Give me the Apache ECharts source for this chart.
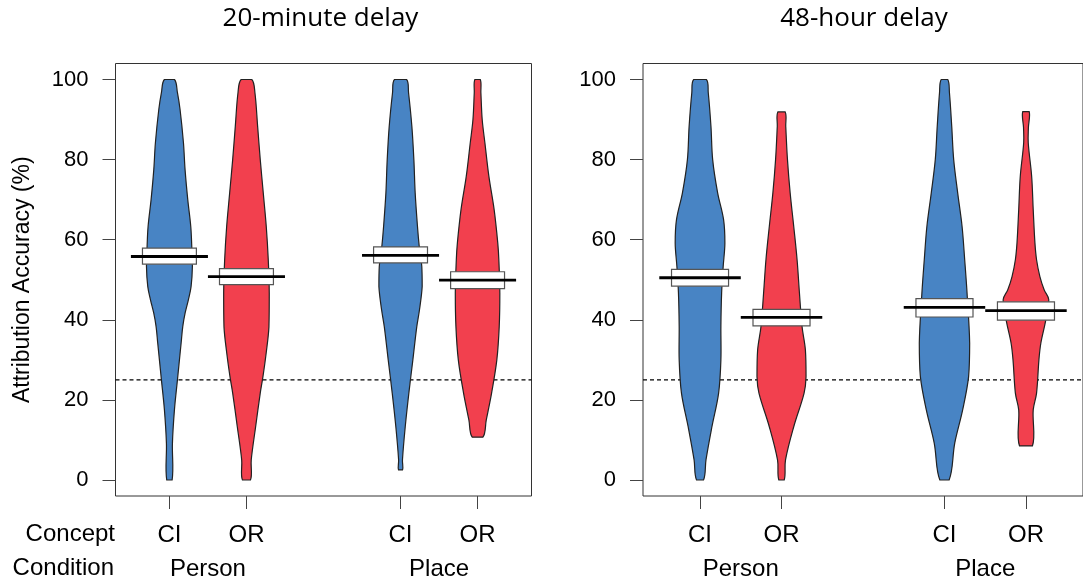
<!DOCTYPE html>
<html><head><meta charset="utf-8">
<script src="https://cdn.jsdelivr.net/npm/echarts@6/dist/echarts.min.js"></script>
<style>html,body{margin:0;padding:0;background:#fff}#c{width:1083px;height:587px}</style>
</head><body><div id="c"></div>
<script>
// ---------- data ----------
const panelTitles = ['20-minute delay', '48-hour delay'];
const beanX = [1, 2, 4, 5];
const conceptLabels = ['CI', 'OR', 'CI', 'OR'];
const conditionLabels = ['Person', 'Place'];
const conditionX = [1.5, 4.5];
const yTicks = [0, 20, 40, 60, 80, 100];
const chanceLevel = 25;

// means and inference band (lower / upper) per bean: Person-CI, Person-OR, Place-CI, Place-OR
const mean20 = [55.8, 50.8, 56.1, 49.9];
const ciLow20 = [53.9, 48.8, 54.2, 47.8];
const ciHigh20 = [57.9, 52.8, 58.2, 52.0];
const mean48 = [50.5, 40.6, 43.1, 42.3];
const ciLow48 = [48.4, 38.5, 40.7, 39.9];
const ciHigh48 = [52.6, 42.6, 45.3, 44.5];

// bean density profiles: [accuracy, half-width in x units]
const dens20PersonCI = [[0,.035],[9.2,.039],[17.5,.065],[25,.104],[30,.13],[34.2,.152],[38.3,.173],[41.7,.204],[45,.246],[48.3,.281],[53.3,.298],[58.3,.29],[63.3,.277],[70,.238],[77.5,.203],[84.2,.182],[92.5,.138],[96.7,.104],[100,.065]];
const dens20PersonOR = [[0,.052],[5,.062],[13.3,.119],[21.7,.179],[25.8,.214],[31.7,.256],[38.3,.292],[46.7,.296],[55,.283],[63.3,.257],[71.7,.218],[80,.179],[88.3,.145],[96.7,.11],[100,.069]];
const dens20PlaceCI = [[2.5,.026],[5,.025],[13.3,.061],[21.7,.108],[30,.16],[38.3,.211],[42.5,.246],[48.3,.281],[53.3,.276],[58.3,.243],[63.3,.22],[71.7,.19],[80,.173],[88.3,.147],[96.7,.104],[100,.078]];
const dens20PlaceOR = [[10.7,.069],[15,.113],[21.7,.182],[30,.25],[38.3,.281],[46.7,.289],[55,.276],[59.2,.262],[67.5,.215],[75.8,.147],[84.2,.095],[90,.06],[96.7,.043],[100,.035]];
const dens48PersonCI = [[0,.043],[5,.073],[13.3,.146],[21.7,.228],[30,.256],[38.3,.256],[46.7,.265],[53.3,.284],[59.2,.305],[65,.289],[71.7,.216],[80,.155],[88.3,.134],[96.7,.101],[100,.077]];
const dens48PersonOR = [[0,.033],[5,.049],[13.3,.15],[21.7,.277],[25.8,.301],[32.5,.293],[38.3,.252],[46.7,.22],[55,.191],[63.3,.15],[71.7,.106],[80,.073],[88.3,.052],[91.9,.045]];
const dens48PlaceCI = [[0,.057],[9.2,.126],[17.5,.223],[25.8,.296],[34.2,.309],[46.7,.277],[55,.248],[63.3,.216],[71.7,.162],[80,.113],[88.3,.089],[96.7,.061],[100,.04]];
const dens48PlaceOR = [[8.5,.079],[17.5,.089],[21.7,.13],[30,.159],[34.2,.183],[39.6,.24],[45,.28],[47.5,.223],[50.8,.171],[55,.13],[59.2,.11],[67.5,.089],[75.8,.07],[84.2,.028],[88,.03],[92,.039]];

const beanColors = ['#4884C4', '#F2404E', '#4884C4', '#F2404E'];

// ---------- build ----------
const panels = [
  {means: mean20, lo: ciLow20, hi: ciHigh20, dens: [dens20PersonCI, dens20PersonOR, dens20PlaceCI, dens20PlaceOR]},
  {means: mean48, lo: ciLow48, hi: ciHigh48, dens: [dens48PersonCI, dens48PersonOR, dens48PlaceCI, dens48PlaceOR]}
];
const FONT = 'Liberation Sans, Arial, Helvetica, sans-serif';
const gridBoxes = [
  {left: 115.5, top: 63.5, width: 416, height: 432.5},
  {left: 643, top: 63.5, width: 443, height: 432.5}
];

const grid = gridBoxes.map(g => Object.assign({show: true, borderColor: '#333', borderWidth: 1, containLabel: false}, g));
const xAxis = [], yAxis = [], series = [];
panels.forEach((p, gi) => {
  xAxis.push({
    gridIndex: gi, type: 'value', min: 0.3, max: 5.7, position: 'bottom',
    axisLine: {show: false, onZero: false}, splitLine: {show: false},
    axisTick: {show: true, customValues: beanX, length: 13, lineStyle: {color: '#444', width: 1}},
    axisLabel: {customValues: beanX, margin: 27, fontSize: 24, fontFamily: FONT, color: '#000',
      formatter: v => conceptLabels[beanX.indexOf(v)] || ''}
  });
  xAxis.push({
    gridIndex: gi, type: 'value', min: 0.3, max: 5.7, position: 'bottom',
    axisLine: {show: false, onZero: false}, splitLine: {show: false}, axisTick: {show: false},
    axisLabel: {customValues: conditionX, margin: 61, fontSize: 24, fontFamily: FONT, color: '#000',
      formatter: v => conditionLabels[conditionX.indexOf(v)] || ''}
  });
  yAxis.push({
    gridIndex: gi, type: 'value', min: -4, max: 104,
    axisLine: {show: false, onZero: false}, splitLine: {show: false},
    axisTick: {show: true, customValues: yTicks, length: 13, lineStyle: {color: '#444', width: 1}},
    axisLabel: {customValues: yTicks, margin: 27, fontSize: 22, fontFamily: FONT, color: '#000'},
    name: gi === 0 ? 'Attribution Accuracy (%)' : '',
    nameLocation: 'middle', nameGap: 81, nameRotate: 90,
    nameTextStyle: {fontSize: 23, fontFamily: FONT, color: '#000'}
  });
  // chance line
  series.push({
    type: 'line', xAxisIndex: gi * 2, yAxisIndex: gi, symbol: 'none', silent: true, z: 1,
    data: [[0.3, chanceLevel], [5.7, chanceLevel]],
    lineStyle: {color: '#000', width: 1.1, type: [4, 3]}
  });
  // beans
  series.push({
    type: 'custom', xAxisIndex: gi * 2, yAxisIndex: gi, z: 2, silent: true,
    data: beanX.map((x, i) => [x, p.means[i], p.lo[i], p.hi[i]]),
    encode: {x: 0, y: 1},
    renderItem: (params, api) => {
      const i = params.dataIndex;
      const x = api.value(0), m = api.value(1), lo = api.value(2), hi = api.value(3);
      const d = p.dens[i];
      const pts = [];
      for (let k = 0; k < d.length; k++) pts.push(api.coord([x - d[k][1], d[k][0]]));
      for (let k = d.length - 1; k >= 0; k--) pts.push(api.coord([x + d[k][1], d[k][0]]));
      let mnx = Infinity, mny = Infinity, mxx = -Infinity, mxy = -Infinity;
      pts.forEach(q => { mnx = Math.min(mnx, q[0]); mny = Math.min(mny, q[1]); mxx = Math.max(mxx, q[0]); mxy = Math.max(mxy, q[1]); });
      const b1 = api.coord([x - 0.35, hi]), b2 = api.coord([x + 0.35, lo]);
      const l1 = api.coord([x - 0.5, m]), l2 = api.coord([x + 0.5, m]);
      return {type: 'group', children: [
        {type: 'polygon', shape: {points: pts, smooth: 0.35, smoothConstraint: [[mnx, mny], [mxx, mxy]]},
          style: {fill: beanColors[i], stroke: '#222', lineWidth: 1.2}},
        {type: 'rect', shape: {x: b1[0], y: b1[1], width: b2[0] - b1[0], height: b2[1] - b1[1]},
          style: {fill: '#fff', stroke: '#555', lineWidth: 1.2}},
        {type: 'line', shape: {x1: l1[0], y1: l1[1], x2: l2[0], y2: l2[1]},
          style: {stroke: '#000', lineWidth: 2.8}}
      ]};
    }
  });
});

const graphic = [
  {type: 'text', x: 320.5, y: 19, style: {text: panelTitles[0], font: '26px "Open Sans"', fill: '#000', textAlign: 'center', textVerticalAlign: 'middle'}},
  {type: 'text', x: 864, y: 19, style: {text: panelTitles[1], font: '26px "Open Sans"', fill: '#000', textAlign: 'center', textVerticalAlign: 'middle'}},
  {type: 'text', x: 115, y: 534.5, style: {text: 'Concept', font: '24px ' + FONT, fill: '#000', textAlign: 'right', textVerticalAlign: 'middle'}},
  {type: 'text', x: 114, y: 568.5, style: {text: 'Condition', font: '24px ' + FONT, fill: '#000', textAlign: 'right', textVerticalAlign: 'middle'}}
];

const chart = echarts.init(document.getElementById('c'), null, {renderer: 'canvas'});
chart.setOption({animation: false, backgroundColor: '#fff', grid, xAxis, yAxis, series, graphic});
</script></body></html>
